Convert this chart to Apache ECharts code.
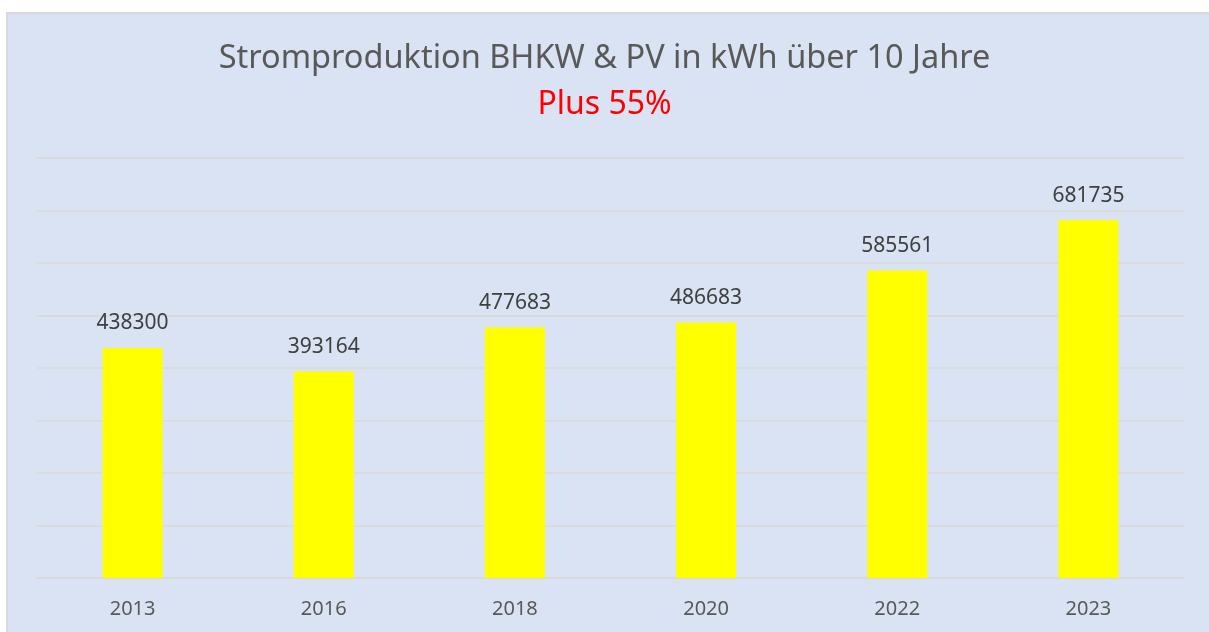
<!DOCTYPE html>
<html>
<head>
<meta charset="utf-8">
<script src="https://cdn.jsdelivr.net/npm/echarts@6/dist/echarts.min.js"></script>
<style>
  html, body { margin: 0; padding: 0; background: #ffffff; }
  #chart { width: 1209px; height: 632px; }
</style>
</head>
<body>
<div id="chart"></div>
<script>
const categories = ['2013', '2016', '2018', '2020', '2022', '2023'];
const values = [438300, 393164, 477683, 486683, 585561, 681735];
const titleText = 'Stromproduktion BHKW & PV in kWh über 10 Jahre';
const subtitleText = 'Plus 55%';

const chart = echarts.init(document.getElementById('chart'), null, { renderer: 'canvas' });
const font = '"Noto Sans", "Open Sans", sans-serif';
chart.setOption({
  backgroundColor: '#ffffff',
  animation: false,
  graphic: [{
    type: 'rect',
    z: -10,
    shape: { x: 7, y: 13, width: 1210, height: 630 },
    style: { fill: '#dae3f3', stroke: '#d9d9d9', lineWidth: 2 }
  }],
  title: [{
    text: titleText,
    left: 'center',
    top: 37,
    textStyle: { fontFamily: font, fontSize: 32.5, fontWeight: 'normal', color: '#595959' }
  }, {
    text: subtitleText,
    left: 'center',
    top: 84,
    textStyle: { fontFamily: font, fontSize: 32, fontWeight: 'normal', color: '#ff0000' }
  }],
  grid: { left: 37, right: 25, top: 158, bottom: 54 },
  xAxis: {
    type: 'category',
    data: categories,
    axisLine: { show: true, lineStyle: { color: '#d9d9d9', width: 1.5 } },
    axisTick: { show: false },
    axisLabel: { fontFamily: font, fontSize: 20, color: '#595959', margin: 21 }
  },
  yAxis: {
    type: 'value',
    min: 0,
    max: 800000,
    interval: 100000,
    axisLabel: { show: false },
    axisLine: { show: false },
    axisTick: { show: false },
    splitLine: { lineStyle: { color: '#d9d9d9', width: 1.5 } }
  },
  series: [{
    type: 'bar',
    data: values,
    barWidth: 60,
    itemStyle: { color: '#ffff00' },
    label: {
      show: true,
      position: 'top',
      distance: 14,
      fontFamily: font,
      fontSize: 21,
      color: '#404040'
    }
  }]
});
</script>
</body>
</html>
